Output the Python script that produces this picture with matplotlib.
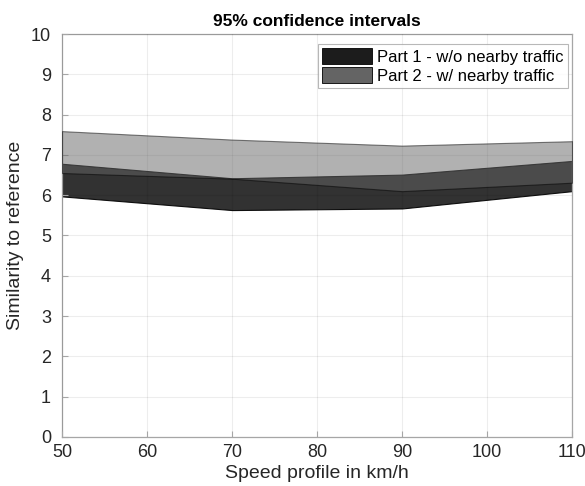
import matplotlib
matplotlib.use("Agg")
import matplotlib.pyplot as plt
from matplotlib.patches import Patch

speeds = [50, 70, 90, 110]
part1_lower = [5.97, 5.63, 5.67, 6.10]
part1_upper = [6.78, 6.42, 6.51, 6.85]
part2_lower = [6.55, 6.41, 6.10, 6.31]
part2_upper = [7.59, 7.38, 7.23, 7.34]
labels = ["Part 1 - w/o nearby traffic", "Part 2 - w/ nearby traffic"]

plt.rcParams['font.family'] = ['Liberation Sans', 'DejaVu Sans']

fig = plt.figure(figsize=(5.85, 4.86), dpi=100)
ax = fig.add_axes([0.106, 0.101, 0.872, 0.829])

c1 = '#1c1c1c'
c2 = '#646464'
ax.fill_between(speeds, part1_lower, part1_upper, facecolor=c1, alpha=0.9,
                edgecolor='black', linewidth=0.8, zorder=2)
ax.fill_between(speeds, part2_lower, part2_upper, facecolor=c2, alpha=0.5,
                edgecolor='black', linewidth=0.8, zorder=3)

ax.set_xlim(50, 110)
ax.set_ylim(0, 10)
ax.set_xticks(range(50, 111, 10))
ax.set_yticks(range(0, 11))
ax.grid(True, color='black', alpha=0.07, linewidth=0.8)
ax.set_axisbelow(False)
for s in ax.spines.values():
    s.set_color('#a6a6a6')
    s.set_linewidth(0.9)
ax.tick_params(direction='in', length=4, width=0.8, color='#a6a6a6',
               labelsize=13, labelcolor='#262626')
ax.tick_params(axis='x', pad=5)
ax.tick_params(axis='y', pad=8)

ax.set_title("95% confidence intervals", fontsize=12.5, fontweight='bold',
             color='black', pad=6)
ax.set_xlabel("Speed profile in km/h", fontsize=14, color='#262626', labelpad=3)
ax.set_ylabel("Similarity to reference", fontsize=14, color='#262626', labelpad=5)

handles = [Patch(facecolor=c1, edgecolor='black', linewidth=0.6),
           Patch(facecolor=c2, edgecolor='black', linewidth=0.6)]
leg = ax.legend(handles, labels, loc='upper right', fontsize=12,
                frameon=True, fancybox=False, edgecolor='#a6a6a6',
                borderpad=0.25, handlelength=3.0, handleheight=1.1,
                handletextpad=0.3, labelspacing=0.12,
                bbox_to_anchor=(0.992, 0.975), borderaxespad=0.0)
leg.get_frame().set_linewidth(0.8)

fig.savefig("out.png", dpi=100)
